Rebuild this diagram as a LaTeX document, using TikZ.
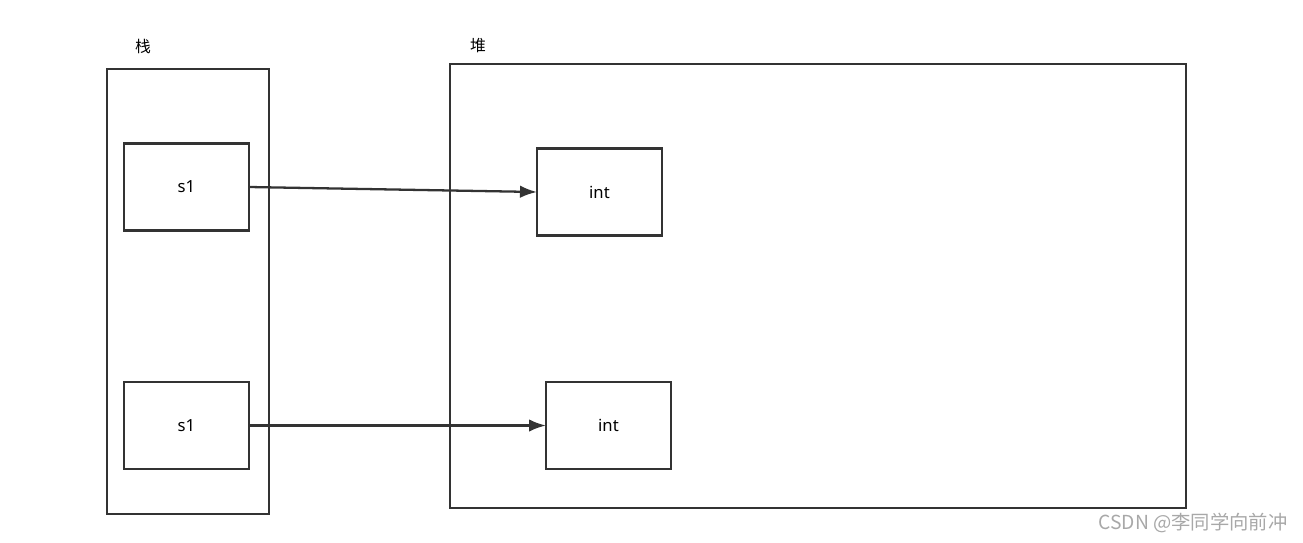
\documentclass[tikz,border=0pt]{standalone}
\usepackage{fontspec}
\setmainfont{Noto Sans}
\newfontfamily\cjk{Noto Sans CJK SC}
\usetikzlibrary{arrows.meta}
\usetikzlibrary{positioning}

\definecolor{linegray}{HTML}{333333}
\definecolor{markgray}{HTML}{A8A8A8}

\begin{document}
\begin{tikzpicture}[x=0.02cm, y=-0.02cm,
    every node/.style={inner sep=0pt, outer sep=0pt},
    memarea/.style={draw=linegray, line width=1.6pt},
    cell/.style={draw=linegray, line width=1.6pt, minimum width=2.5cm, minimum height=1.74cm, font=\fontsize{9.5}{11}\selectfont},
    ptr/.style={draw=linegray, line width=1.3pt, -{Latex[length=0.34cm, width=0.25cm]}}]

        \useasboundingbox (0, 0) rectangle (1303, 542);

        % Stack and heap areas
        \node[memarea, minimum width=3.24cm, minimum height=8.9cm] (stack) at (188, 291.5) {};
        \node[memarea, minimum width=14.72cm, minimum height=8.88cm] (heap) at (818, 286) {};

        % Area labels
        \node[font=\cjk\fontsize{9}{10}\selectfont] (stacklbl) at (143, 46) {栈};
        \node[font=\cjk\fontsize{9}{10}\selectfont] (heaplbl) at (478, 46) {堆};

        % Variables on the stack
        \node[cell] (s1a) at (186.5, 187) {s1};
        \node[cell] (s1b) at (186.5, 425.5) {s1};

        % Objects on the heap
        \node[cell] (inta) at (599.5, 192) {int};
        \node[cell] (intb) at (608.5, 425.5) {int};

        % References
        \draw[ptr] (s1a.east) -- (inta.west);
        \draw[ptr] (s1b.east) -- (intb.west);

        % Watermark
        \node[font=\cjk\fontsize{11}{12}\selectfont, text=markgray] (mark) at (1193, 523) {CSDN @李同学向前冲};

\end{tikzpicture}
\end{document}
